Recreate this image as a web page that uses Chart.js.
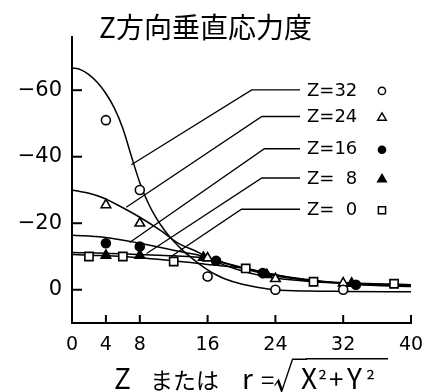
<!DOCTYPE html>
<html>
<head>
<meta charset="utf-8">
<script src="https://cdn.jsdelivr.net/npm/chart.js@4.4.1/dist/chart.umd.min.js"></script>
<style>
html,body{margin:0;padding:0;background:#fff;}
#wrap{width:439px;height:392px;position:relative;}
</style>
</head>
<body>
<div id="wrap"><canvas id="c"></canvas></div>
<script>
// ---- data ----
const titleText = 'Z方向垂直応力度';
const xAxisTitleParts = ['Z', 'または', 'r', '=', '√', 'X', '²', '+', 'Y', '²'];
const xTicks = [0, 4, 8, 16, 24, 32, 40];
const yTicks = [-60, -40, -20, 0];
const seriesLabels = ['Z=32', 'Z=24', 'Z=16', 'Z=  8', 'Z=  0'];

// smooth theoretical curves
const curve32X = [0, 1, 2, 3, 4, 5, 6, 7, 8, 9, 10, 11, 12, 13, 14, 15, 16, 17, 18, 20, 22, 24, 28, 32, 40];
const curve32Y = [-66.7, -66.2, -64.7, -62.3, -59, -54.6, -48.5, -40.2, -32.2, -26, -21.3, -17.6, -14.6, -12, -9.8, -7.8, -6, -4.5, -3.3, -1.7, -0.7, 0, 0.4, 0.5, 0.6];
const curve24X = [0, 2, 3.7, 6.1, 8, 10.4, 12.4, 15.1, 16, 18, 20, 22, 24, 28, 32, 36, 40];
const curve24Y = [-30, -29, -27.6, -24.5, -21.8, -17.9, -14.2, -11, -9.6, -7.4, -5.7, -4.4, -3.5, -2.5, -2, -1.6, -1.2];
const curve16X = [0, 3.7, 8, 13.3, 15.1, 17, 20, 23, 28, 33.5, 40];
const curve16Y = [-16.4, -15.8, -14, -11.2, -10.3, -8.8, -6.8, -5, -3, -1.6, -1];
const curve8X = [0, 4, 8, 12, 15.5, 20, 23, 28, 33.5, 40];
const curve8Y = [-11.2, -11, -10.6, -10.2, -9.6, -6.5, -4.6, -2.8, -1.7, -1.1];
const curve0X = [0, 2, 6, 12, 16, 20.5, 24, 28.5, 33, 38, 40];
const curve0Y = [-10.6, -10.4, -10, -8.7, -7.6, -6.4, -4.5, -2.6, -2.0, -1.7, -1.5];

// measured points
const pts32X = [4, 8, 16, 24, 32];
const pts32Y = [-51, -30, -4, 0, 0];
const pts24X = [4, 8, 16, 24, 32];
const pts24Y = [-25.5, -20, -9.5, -3.3, -2];
const pts16X = [4, 8, 17, 22.5, 33.5];
const pts16Y = [-14, -13, -8.7, -5, -1.5];
const pts8X = [4, 8, 15.5, 23, 33];
const pts8Y = [-10.3, -10.3, -9.7, -4.5, -1.9];
const pts0X = [2, 6, 12, 20.5, 28.5, 38];
const pts0Y = [-10, -10, -8.5, -6.4, -2.4, -1.8];

// leader lines (curve -> label), in data units
const leader32X = [7.0, 21.2, 26.9];
const leader32Y = [-37.6, -60.1, -60.1];
const leader24X = [6.4, 22.4, 26.9];
const leader24Y = [-24.8, -52.1, -52.1];
const leader16X = [6.8, 22.7, 26.9];
const leader16Y = [-14.2, -42.4, -42.4];
const leader8X = [8.8, 22.4, 26.9];
const leader8Y = [-10.9, -33.6, -33.6];
const leader0X = [11.7, 20.0, 26.9];
const leader0Y = [-10, -24.2, -24.2];

// ---- build ----
const zip = (xs, ys) => xs.map((x, i) => ({x, y: ys[i]}));
const curves = [[curve32X, curve32Y], [curve24X, curve24Y], [curve16X, curve16Y], [curve8X, curve8Y], [curve0X, curve0Y]];
const pts = [[pts32X, pts32Y], [pts24X, pts24Y], [pts16X, pts16Y], [pts8X, pts8Y], [pts0X, pts0Y]];
const leaders = [[leader32X, leader32Y], [leader24X, leader24Y], [leader16X, leader16Y], [leader8X, leader8Y], [leader0X, leader0Y]];
const styles = [
  {ps: 'circle', fill: '#fff', r: 4.5},
  {ps: 'triangle', fill: '#fff', r: 5.5},
  {ps: 'circle', fill: '#000', r: 4.5},
  {ps: 'triangle', fill: '#000', r: 5.5},
  {ps: 'rect', fill: '#fff', r: 5.8}
];

const datasets = [];
leaders.forEach(([xs, ys]) => datasets.push({
  type: 'line', data: zip(xs, ys), borderColor: '#000', borderWidth: 1.3,
  pointRadius: 0, tension: 0, fill: false, order: 3
}));
curves.forEach(([xs, ys]) => datasets.push({
  type: 'line', data: zip(xs, ys), borderColor: '#000', borderWidth: 1.5,
  pointRadius: 0, cubicInterpolationMode: 'monotone', fill: false, order: 2
}));
pts.forEach(([xs, ys], i) => datasets.push({
  type: 'scatter', data: zip(xs, ys), showLine: false,
  pointStyle: styles[i].ps, pointRadius: styles[i].r, pointBackgroundColor: styles[i].fill,
  pointBorderColor: '#000', pointBorderWidth: 1.6, order: 1
}));

function drawMarker(ctx, st, x, y, r) {
  ctx.save();
  ctx.lineWidth = 1.5; ctx.strokeStyle = '#000'; ctx.fillStyle = st.fill;
  ctx.beginPath();
  if (st.ps === 'circle') ctx.arc(x, y, r, 0, Math.PI * 2);
  else if (st.ps === 'triangle') { ctx.moveTo(x, y - r); ctx.lineTo(x + r * 0.95, y + r * 0.6); ctx.lineTo(x - r * 0.95, y + r * 0.6); ctx.closePath(); }
  else ctx.rect(x - r, y - r, 2 * r, 2 * r);
  ctx.fill(); ctx.stroke();
  ctx.restore();
}

// placement of the x-axis caption pieces (left x, font size)
const captionLayout = [
  [114, 28], [150, 23], [242, 28], [261, 24], [273, 34],
  [301, 28], [318, 22], [329, 26], [347, 28], [366, 22]
];

const decor = {
  id: 'decor',
  afterDraw(chart) {
    const {ctx, scales: {x, y}} = chart;
    ctx.save();
    ctx.strokeStyle = '#000'; ctx.lineWidth = 2;
    // inward ticks
    yTicks.forEach(v => { const py = y.getPixelForValue(v); ctx.beginPath(); ctx.moveTo(x.left, py); ctx.lineTo(x.left + 10, py); ctx.stroke(); });
    xTicks.forEach(v => { const px = x.getPixelForValue(v); ctx.beginPath(); ctx.moveTo(px, y.bottom); ctx.lineTo(px, y.bottom - 8); ctx.stroke(); });
    // labels with markers
    ctx.fillStyle = '#000';
    ctx.font = "18px 'DejaVu Sans'";
    ctx.textBaseline = 'middle';
    ctx.textAlign = 'left';
    leaders.forEach(([xs, ys], i) => {
      const ex = x.getPixelForValue(xs[xs.length - 1]);
      const ey = y.getPixelForValue(ys[ys.length - 1]);
      ctx.fillText(seriesLabels[i], ex + 7, ey + 1);
      const small = {ps: styles[i].ps, fill: styles[i].fill};
      drawMarker(ctx, small, ex + 82, ey + 1, styles[i].ps === 'triangle' ? 4.5 : 3.6);
    });
    // x-axis caption
    ctx.textBaseline = 'alphabetic';
    const base = chart.height - 3;
    let rootTop = base - 28, rootRight = 292;
    xAxisTitleParts.forEach((t, i) => {
      const [lx, fs] = captionLayout[i];
      ctx.font = fs + "px 'Noto Sans CJK JP'";
      ctx.fillText(t, lx, base);
      if (t === '√') {
        const m = ctx.measureText(t);
        rootTop = base - m.actualBoundingBoxAscent + 0.8;
        rootRight = lx + m.actualBoundingBoxRight - 1;
      }
    });
    // overline of the square root
    ctx.lineWidth = 1.6;
    ctx.beginPath(); ctx.moveTo(rootRight, rootTop); ctx.lineTo(388, rootTop); ctx.stroke();
    ctx.restore();
  }
};

new Chart(document.getElementById('c'), {
  data: {datasets},
  options: {
    responsive: true, maintainAspectRatio: false, animation: false,
    devicePixelRatio: 1,
    layout: {padding: {left: 0, right: 28, top: 0, bottom: 0}},
    plugins: {
      legend: {display: false}, tooltip: {enabled: false},
      title: {display: true, text: titleText, color: '#000',
        font: {family: "'Noto Sans CJK JP'", size: 28, weight: 'normal', lineHeight: 1.2},
        padding: {top: 11, bottom: -7.6}}
    },
    scales: {
      x: {
        type: 'linear', min: 0, max: 40,
        afterBuildTicks: s => { s.ticks = xTicks.map(v => ({value: v})); },
        afterFit: s => { s.height = 69; },
        grid: {display: false, drawTicks: false},
        border: {display: true, color: '#000', width: 2},
        ticks: {color: '#000', padding: 11, maxRotation: 0, font: {family: "'DejaVu Sans'", size: 19}},
        title: {display: false, text: xAxisTitleParts.join('')}
      },
      y: {
        type: 'linear', min: -76, max: 10, reverse: true,
        afterBuildTicks: s => { s.ticks = yTicks.map(v => ({value: v})); },
        afterFit: s => { s.width = 72; },
        grid: {display: false, drawTicks: false},
        border: {display: true, color: '#000', width: 2},
        ticks: {color: '#000', padding: 10, font: {family: "'DejaVu Sans'", size: 21},
          callback: v => (v < 0 ? '−' + Math.abs(v) : String(v))}
      }
    }
  },
  plugins: [decor]
});
</script>
</body>
</html>
